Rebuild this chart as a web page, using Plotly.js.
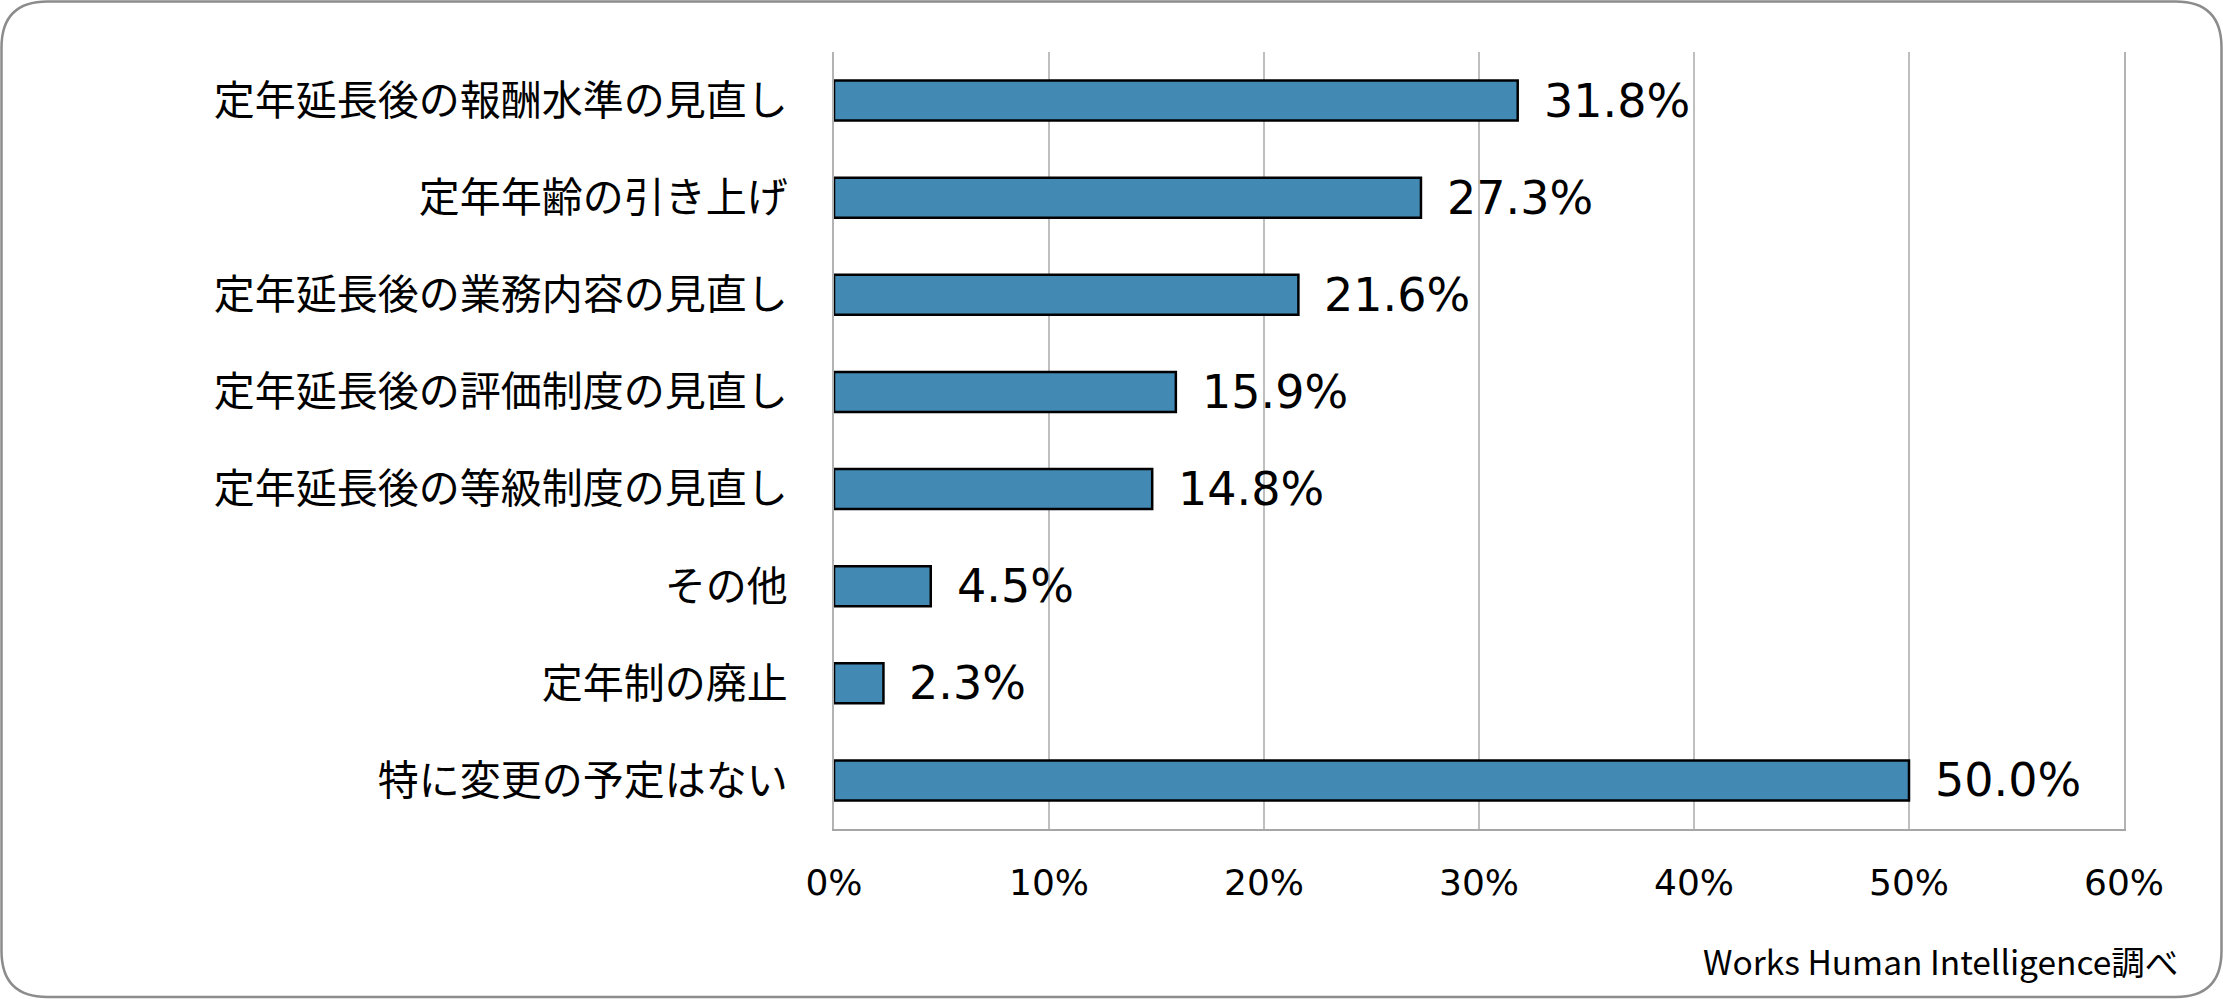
<!DOCTYPE html>
<html>
<head>
<meta charset="utf-8">
<script src="https://cdn.plot.ly/plotly-3.0.1.min.js"></script>
<style>
  html, body { margin: 0; padding: 0; background: #ffffff; }
  #chart { width: 2223px; height: 999px; }
</style>
</head>
<body>
<div id="chart"></div>
<script>
// Data
const categories = [
  "定年延長後の報酬水準の見直し",
  "定年年齢の引き上げ",
  "定年延長後の業務内容の見直し",
  "定年延長後の評価制度の見直し",
  "定年延長後の等級制度の見直し",
  "その他",
  "定年制の廃止",
  "特に変更の予定はない"
];
const values = [31.8, 27.3, 21.6, 15.9, 14.8, 4.5, 2.3, 50.0];
const valueLabels = ["31.8%", "27.3%", "21.6%", "15.9%", "14.8%", "4.5%", "2.3%", "50.0%"];
const tickValues = [0, 10, 20, 30, 40, 50, 60];
const tickLabels = ["0%", "10%", "20%", "30%", "40%", "50%", "60%"];
const sourceNote = "Works Human Intelligence調べ";

// Layout geometry (pixels)
const W = 2223, H = 999;
const mL = 834, mR = 99, mT = 52, mB = 170;
const pw = W - mL - mR, ph = H - mT - mB;
const px = x => (x - mL) / pw;
const py = y => (H - mB - y) / ph;

// rounded border path in paper coordinates
const bx0 = 1.5, by0 = 1.5, bx1 = W - 1.5, by1 = H - 2, r = 46;
const borderPath =
  `M ${px(bx0 + r)} ${py(by0)} L ${px(bx1 - r)} ${py(by0)} ` +
  `Q ${px(bx1)} ${py(by0)} ${px(bx1)} ${py(by0 + r)} ` +
  `L ${px(bx1)} ${py(by1 - r)} ` +
  `Q ${px(bx1)} ${py(by1)} ${px(bx1 - r)} ${py(by1)} ` +
  `L ${px(bx0 + r)} ${py(by1)} ` +
  `Q ${px(bx0)} ${py(by1)} ${px(bx0)} ${py(by1 - r)} ` +
  `L ${px(bx0)} ${py(by0 + r)} ` +
  `Q ${px(bx0)} ${py(by0)} ${px(bx0 + r)} ${py(by0)} Z`;

const trace = {
  type: "bar",
  orientation: "h",
  x: values,
  y: categories,
  marker: { color: "#4289b4", line: { color: "#000000", width: 2.5 } },
  hoverinfo: "x+y"
};

const annotations = values.map((v, i) => ({
  x: v, y: categories[i], xref: "x", yref: "y",
  text: valueLabels[i], showarrow: false,
  xanchor: "left", yanchor: "middle", xshift: 24,
  font: { family: "DejaVu Sans", size: 46, color: "#000000" }
}));
annotations.push({
  x: px(2180), y: py(960), xref: "paper", yref: "paper",
  text: sourceNote, showarrow: false, xanchor: "right", yanchor: "middle",
  font: { family: "Noto Sans CJK JP", size: 33.5, color: "#000000" }
});

const layout = {
  width: W, height: H,
  margin: { l: mL, r: mR, t: mT, b: mB, pad: 0 },
  paper_bgcolor: "#ffffff",
  plot_bgcolor: "#ffffff",
  showlegend: false,
  bargap: 0.588,
  xaxis: {
    range: [0, 60],
    tickvals: tickValues,
    ticktext: tickLabels,
    showgrid: true,
    gridcolor: "#bfbfbf",
    gridwidth: 1.5,
    zeroline: false,
    showline: true,
    linecolor: "#a6a6a6",
    linewidth: 2,
    ticks: "",
    ticklabelstandoff: 21,
    tickfont: { family: "DejaVu Sans", size: 36, color: "#000000" },
    fixedrange: true
  },
  yaxis: {
    type: "category",
    categoryorder: "array",
    categoryarray: categories,
    autorange: "reversed",
    showgrid: false,
    zeroline: false,
    showline: true,
    mirror: true,
    linecolor: "#b3b3b3",
    linewidth: 2,
    ticks: "",
    ticklabelstandoff: 36,
    tickfont: { family: "Noto Sans CJK JP", size: 41, color: "#000000" },
    fixedrange: true
  },
  annotations: annotations,
  shapes: [{
    type: "path", xref: "paper", yref: "paper", path: borderPath,
    line: { color: "#8c8c8c", width: 2.5 }, fillcolor: "rgba(0,0,0,0)", layer: "above"
  }]
};

Plotly.newPlot("chart", [trace], layout, { displayModeBar: false, staticPlot: true });
</script>
</body>
</html>
